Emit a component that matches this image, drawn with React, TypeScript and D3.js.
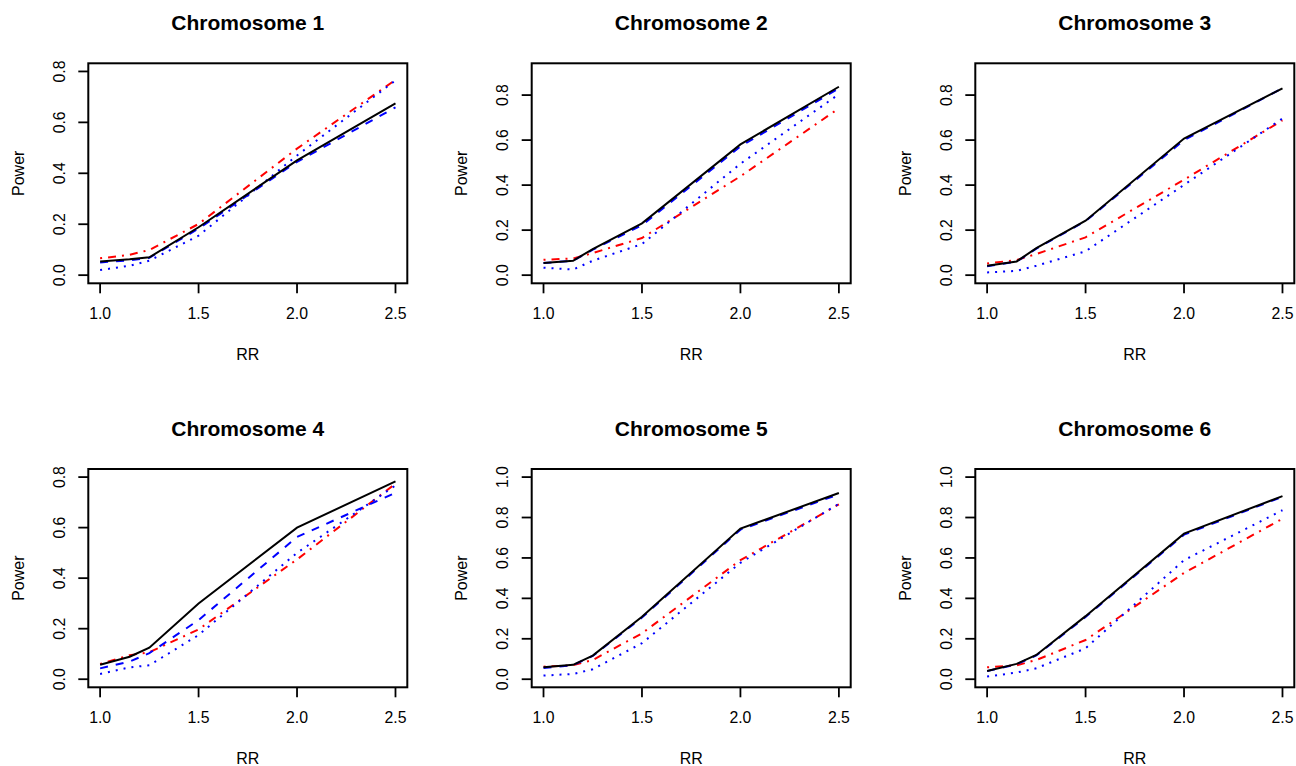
import * as d3 from "d3";

// Relative risk grid shared by all panels
const rr = [1.0, 1.15, 1.25, 1.5, 2.0, 2.5];
const xTicks = [1.0, 1.5, 2.0, 2.5];

const titles = [
  "Chromosome 1",
  "Chromosome 2",
  "Chromosome 3",
  "Chromosome 4",
  "Chromosome 5",
  "Chromosome 6",
];

// ylim upper bound per panel (lower bound is 0)
const yMax = [0.8, 0.905, 0.905, 0.8, 1.0, 1.0];
const yTicks = [
  [0, 0.2, 0.4, 0.6, 0.8],
  [0, 0.2, 0.4, 0.6, 0.8],
  [0, 0.2, 0.4, 0.6, 0.8],
  [0, 0.2, 0.4, 0.6, 0.8],
  [0, 0.2, 0.4, 0.6, 0.8, 1.0],
  [0, 0.2, 0.4, 0.6, 0.8, 1.0],
];

// power curves, one row per chromosome
const solid = [
  [0.054, 0.062, 0.07, 0.188, 0.451, 0.675],
  [0.054, 0.064, 0.116, 0.23, 0.581, 0.837],
  [0.042, 0.061, 0.12, 0.242, 0.607, 0.83],
  [0.057, 0.089, 0.125, 0.3, 0.6, 0.783],
  [0.059, 0.071, 0.117, 0.309, 0.745, 0.921],
  [0.041, 0.076, 0.12, 0.312, 0.72, 0.906],
];
const dashed = [
  [0.05, 0.058, 0.068, 0.183, 0.445, 0.659],
  [0.054, 0.064, 0.113, 0.222, 0.572, 0.83],
  [0.04, 0.06, 0.118, 0.24, 0.6, 0.83],
  [0.043, 0.07, 0.103, 0.234, 0.563, 0.738],
  [0.055, 0.07, 0.115, 0.305, 0.74, 0.915],
  [0.04, 0.074, 0.118, 0.308, 0.715, 0.903],
];
const dotdash = [
  [0.066, 0.08, 0.099, 0.201, 0.497, 0.767],
  [0.068, 0.074, 0.098, 0.165, 0.439, 0.741],
  [0.052, 0.067, 0.094, 0.168, 0.424, 0.688],
  [0.06, 0.095, 0.107, 0.197, 0.474, 0.774],
  [0.062, 0.069, 0.095, 0.227, 0.589, 0.865],
  [0.059, 0.069, 0.095, 0.194, 0.526, 0.794],
];
const dotted = [
  [0.02, 0.037, 0.057, 0.155, 0.47, 0.765],
  [0.033, 0.025, 0.064, 0.138, 0.495, 0.804],
  [0.012, 0.019, 0.042, 0.106, 0.401, 0.696],
  [0.021, 0.047, 0.055, 0.175, 0.5, 0.767],
  [0.018, 0.026, 0.049, 0.178, 0.576, 0.868],
  [0.013, 0.033, 0.054, 0.153, 0.589, 0.836],
];

const W = 1296;
const H = 766;
const COL_X = [88.3, 531.7, 975.3];
const ROW_Y = [63.3, 469];
const BOX_W = 319;
const ROW_H = [220, 218.3];
const FONT = "'Liberation Sans', Arial, Helvetica, sans-serif";

const styles = [
  { data: dotdash, color: "#ff0000", dash: "2,6,8,6" },
  { data: dotted, color: "#0000ff", dash: "2,6" },
  { data: dashed, color: "#0000ff", dash: "8,8" },
  { data: solid, color: "#000000", dash: undefined },
];

function Panel({ i }: { i: number }) {
  const left = COL_X[i % 3];
  const top = ROW_Y[Math.floor(i / 3)];
  const h = ROW_H[Math.floor(i / 3)];
  const bottom = top + h;
  const right = left + BOX_W;

  const padX = (2.5 - 1.0) * 0.04;
  const x = d3.scaleLinear().domain([1.0 - padX, 2.5 + padX]).range([left, right]);
  const padY = yMax[i] * 0.04;
  const y = d3.scaleLinear().domain([-padY, yMax[i] + padY]).range([bottom, top]);

  const line = d3
    .line<number>()
    .x((_, k) => x(rr[k]))
    .y((d) => y(d));

  return (
    <g>
      <text
        x={(left + right) / 2}
        y={top - 40.5}
        textAnchor="middle"
        dominantBaseline="central"
        fontWeight="bold"
        fontSize={21}
      >
        {titles[i]}
      </text>

      {styles.map((s, k) => (
        <path
          key={k}
          d={line(s.data[i]) ?? ""}
          fill="none"
          stroke={s.color}
          strokeWidth={2}
          strokeDasharray={s.dash}
        />
      ))}

      <rect x={left} y={top} width={BOX_W} height={h} fill="none" stroke="#000" strokeWidth={2} />

      {xTicks.map((t) => (
        <g key={t}>
          <line x1={x(t)} x2={x(t)} y1={bottom} y2={bottom + 10} stroke="#000" strokeWidth={1.8} />
          <text x={x(t)} y={bottom + 30} textAnchor="middle" dominantBaseline="central" fontSize={15.8}>
            {d3.format(".1f")(t)}
          </text>
        </g>
      ))}
      {yTicks[i].map((t) => (
        <g key={t}>
          <line x1={left - 10} x2={left} y1={y(t)} y2={y(t)} stroke="#000" strokeWidth={1.8} />
          <text
            transform={`translate(${left - 29},${y(t)}) rotate(-90)`}
            textAnchor="middle"
            dominantBaseline="central"
            fontSize={15.8}
          >
            {d3.format(".1f")(t)}
          </text>
        </g>
      ))}

      <text x={(left + right) / 2} y={bottom + 71} textAnchor="middle" dominantBaseline="central" fontSize={16}>
        RR
      </text>
      <text
        transform={`translate(${left - 70},${(top + bottom) / 2}) rotate(-90)`}
        textAnchor="middle"
        dominantBaseline="central"
        fontSize={16}
      >
        Power
      </text>
    </g>
  );
}

export default function App() {
  return (
    <svg
      width={W}
      height={H}
      fontFamily={FONT}
      style={{ position: "absolute", left: 0, top: 0, background: "#fff" }}
    >
      {titles.map((_, i) => (
        <Panel key={i} i={i} />
      ))}
    </svg>
  );
}
